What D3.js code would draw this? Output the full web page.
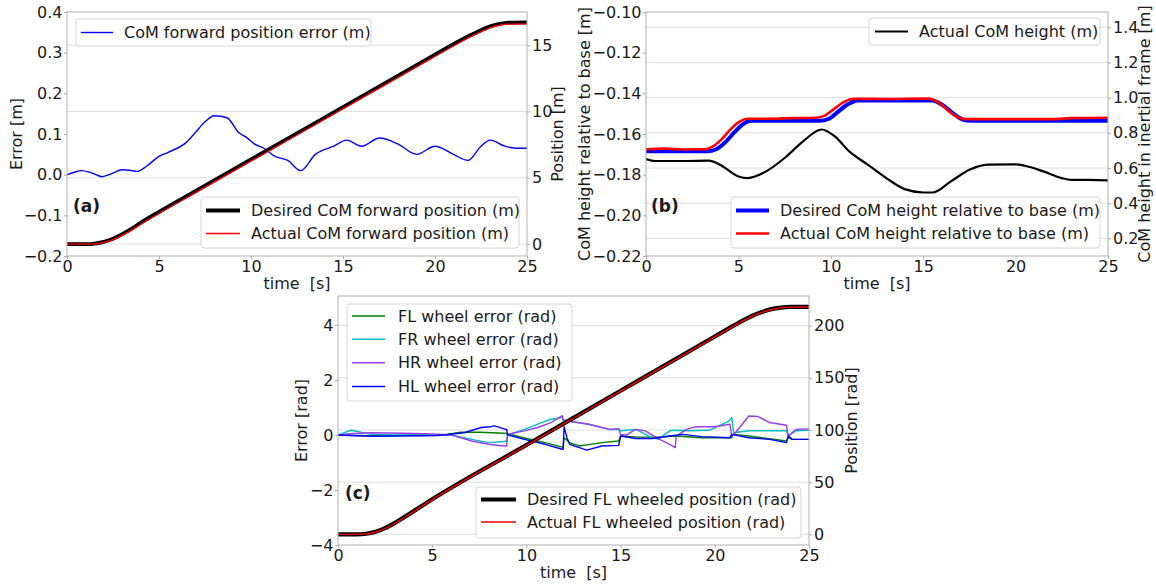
<!DOCTYPE html>
<meta charset="utf-8">
<script src="https://d3js.org/d3.v7.min.js"></script>
<style>
  body { margin: 0; background: #fff; }
  svg text { font-family: "DejaVu Sans", sans-serif; fill: #1a1a1a; }
</style>
<svg id="fig" width="1156" height="587"></svg>
<script>
// ---------- data (time [s], value) ----------
var timeTicks = [0, 5, 10, 15, 20, 25];

// (a) CoM forward
var aLeftTicks = [-0.2, -0.1, 0.0, 0.1, 0.2, 0.3, 0.4];
var aRightTicks = [0, 5, 10, 15];
var comErrA = [[0,0.0],[0.4,0.006],[0.8,0.01],[1.3,0.005],[1.9,-0.005],[2.4,0.002],[3,0.012],[3.4,0.011],[3.8,0.008],[4.3,0.02],[5,0.045],[5.5,0.055],[6.5,0.08],[7,0.105],[7.5,0.13],[8,0.145],[8.7,0.14],[9.3,0.105],[9.8,0.09],[10.2,0.075],[10.7,0.065],[11.3,0.045],[12,0.035],[12.7,0.01],[13.5,0.05],[14.5,0.07],[15.2,0.085],[16,0.07],[17,0.09],[18,0.075],[19,0.05],[20,0.07],[21,0.05],[21.8,0.035],[22.5,0.07],[23,0.085],[23.8,0.07],[24.5,0.065],[25,0.065]];
var comPosDesA = [[0,0],[1,0],[1.5,0.04],[2,0.16],[2.5,0.4],[3,0.75],[3.5,1.15],[4,1.6],[5,2.43],[7,4.01],[10,6.38],[13,8.75],[16,11.12],[19,13.49],[21,15.07],[21.5,15.45],[22,15.8],[22.5,16.13],[23,16.42],[23.5,16.6],[24,16.7],[25,16.72]];
var comPosActA = [[0,0],[1,0],[1.5,0.02],[2,0.12],[2.5,0.33],[3,0.66],[3.5,1.05],[4,1.48],[5,2.3],[7,3.88],[10,6.25],[13,8.62],[16,10.99],[19,13.36],[21,14.94],[21.5,15.32],[22,15.68],[22.5,16.0],[23,16.3],[23.5,16.5],[24,16.58],[25,16.6]];

// (b) CoM height
var bLeftTicks = [-0.22, -0.20, -0.18, -0.16, -0.14, -0.12, -0.10];
var bRightTicks = [0.2, 0.4, 0.6, 0.8, 1.0, 1.2, 1.4];
var heightDesB = [[0,-0.1685],[3.3,-0.1685],[3.8,-0.1675],[4.3,-0.164],[4.8,-0.159],[5.2,-0.1555],[5.7,-0.1535],[9.4,-0.1535],[9.9,-0.1525],[10.4,-0.149],[10.9,-0.1455],[11.5,-0.1435],[15.5,-0.1435],[16.0,-0.1455],[16.5,-0.149],[17,-0.1523],[17.5,-0.1535],[25,-0.1535]];
var heightActB = [[0,-0.1675],[1,-0.1672],[2,-0.1676],[3.2,-0.1675],[3.6,-0.1662],[4.1,-0.1625],[4.6,-0.1575],[5,-0.1543],[5.5,-0.1525],[6.5,-0.1525],[8,-0.1522],[9.2,-0.152],[9.7,-0.1508],[10.2,-0.1475],[10.7,-0.1443],[11.3,-0.1427],[13,-0.1428],[15.3,-0.1426],[15.8,-0.1445],[16.3,-0.148],[16.8,-0.1515],[17.3,-0.1527],[20,-0.1527],[22,-0.1527],[23,-0.1522],[25,-0.152]];
var heightInertialB = [[0,0.651],[0.5,0.64],[2,0.64],[3.4,0.642],[4,0.619],[5,0.552],[5.5,0.543],[6.5,0.581],[7.5,0.657],[8.5,0.752],[9.5,0.819],[10.2,0.781],[11,0.695],[12,0.619],[13,0.543],[14,0.48],[15,0.461],[15.5,0.461],[16.5,0.524],[17.5,0.59],[18.5,0.619],[20,0.621],[20.5,0.613],[21.5,0.581],[22.5,0.543],[23,0.533],[24,0.533],[25,0.53]];

// (c) wheels
var cLeftTicks = [-4, -2, 0, 2, 4];
var cRightTicks = [0, 50, 100, 150, 200];
var flErr = [[0,0],[1,-0.02],[2,-0.03],[3,-0.02],[4,0],[5,0.0],[5.8,0.02],[6.5,0.1],[7.5,0.1],[8.5,0.07],[9,0.05],[10,-0.13],[11,-0.28],[11.95,-0.45],[12.0,-0.1],[12.3,-0.28],[12.8,-0.4],[13.3,-0.35],[14,-0.28],[14.9,-0.22],[15.0,-0.04],[16,-0.08],[17,-0.08],[17.9,-0.04],[19.3,-0.1],[20.9,-0.1],[21,0.02],[21.8,-0.04],[23.8,-0.22],[23.9,-0.1],[24.1,-0.16],[25,-0.16]];
var frErr = [[0,0],[0.7,0.17],[1.8,0.02],[3,0.0],[5,-0.01],[6,0.0],[7.1,-0.16],[8,-0.28],[8.8,-0.24],[8.95,-0.22],[9.0,0.0],[9.9,0.2],[10.6,0.39],[11.3,0.57],[11.9,0.63],[12.0,0.45],[12.3,0.5],[13.3,0.39],[14.4,0.2],[14.9,0.2],[15.0,0.15],[15.8,0.2],[16.5,-0.04],[17.0,-0.16],[17.6,0.15],[17.9,0.17],[18.6,0.15],[19.7,0.17],[20.75,0.5],[20.9,0.63],[21.0,0.08],[21.8,0.15],[22.9,0.15],[23.8,0.15],[23.9,-0.04],[24.3,0.15],[25,0.17]];
var hrErr = [[0,0],[0.8,0.05],[1.8,0.08],[3.5,0.06],[5,0.04],[6,0.0],[7.1,-0.22],[8,-0.34],[8.8,-0.4],[8.95,-0.4],[9.0,0.02],[9.9,0.15],[10.6,0.27],[11.3,0.45],[11.9,0.7],[11.95,0.55],[12.3,0.5],[13.3,0.39],[14.4,0.2],[14.9,0.23],[15.0,0.02],[15.3,-0.01],[15.8,0.2],[16.3,0.15],[16.9,-0.1],[17.6,-0.34],[17.9,-0.46],[17.95,-0.04],[18.5,0.2],[19,0.3],[20,0.3],[20.8,0.39],[20.9,-0.04],[21.1,0.08],[21.8,0.69],[22.3,0.67],[22.9,0.45],[23.8,0.35],[23.9,-0.04],[24.3,0.2],[25,0.22]];
var hlErr = [[0,0],[1,-0.03],[2,-0.05],[3,-0.04],[4.5,-0.03],[5.3,-0.02],[6.7,0.08],[7.6,0.27],[8.1,0.3],[8.3,0.33],[8.9,0.2],[8.95,0.2],[9.0,0.0],[9.9,-0.16],[11,-0.34],[11.9,-0.52],[11.95,-0.52],[12.0,0.3],[12.15,-0.1],[12.3,-0.34],[13.2,-0.55],[14,-0.4],[14.9,-0.38],[15.0,-0.04],[15.8,-0.13],[16.7,-0.13],[17.6,-0.04],[18.3,0.02],[19.3,-0.06],[20.8,-0.1],[20.9,0.02],[21.8,-0.1],[22.9,-0.16],[23.8,-0.28],[23.9,-0.04],[24.1,-0.16],[25,-0.16]];
var wheelPosDes = [[0,0],[1,0],[1.5,0.6],[2,2.5],[2.5,6],[3,10.8],[3.5,16.3],[4,22],[5,33.6],[10,85.6],[15,137.6],[20,189.6],[21,200],[21.5,205],[22,209.5],[22.5,213],[23,215.8],[23.5,217.3],[24,218],[25,218]];
var wheelPosAct = [[0,0],[1,0],[1.5,0.5],[2,2.3],[2.5,5.7],[3,10.4],[3.5,15.9],[4,21.6],[5,33.2],[10,85.2],[15,137.2],[20,189.2],[21,199.6],[21.5,204.6],[22,209.1],[22.5,212.7],[23,215.5],[23.5,217.0],[24,217.7],[25,217.8]];

// ---------- drawing ----------
var svg = d3.select("#fig");
svg.append("rect").attr("width", 1156).attr("height", 587).attr("fill", "#fff");

var FONT = 16;

function makePanel(id, box, yLDom, yRDom, leftTicks, leftFmt, rightTicks, rightFmt) {
  var g = svg.append("g");
  var x = d3.scaleLinear().domain([0, 25]).range([box.left, box.right]);
  var yL = d3.scaleLinear().domain(yLDom).range([box.bottom, box.top]);
  var yR = d3.scaleLinear().domain(yRDom).range([box.bottom, box.top]);

  svg.append("clipPath").attr("id", "clip" + id)
    .append("rect").attr("x", box.left).attr("y", box.top)
    .attr("width", box.right - box.left).attr("height", box.bottom - box.top);

  // grid from the right axis
  g.selectAll(".grid").data(rightTicks).enter().append("line")
    .attr("x1", box.left).attr("x2", box.right)
    .attr("y1", function(d) { return yR(d); }).attr("y2", function(d) { return yR(d); })
    .attr("stroke", "#dedede").attr("stroke-width", 1);

  var ax = g.append("g").attr("transform", "translate(0," + box.bottom + ")")
    .call(d3.axisBottom(x).tickValues(timeTicks).tickFormat(d3.format("d")).tickSize(3).tickPadding(2));
  var al = g.append("g").attr("transform", "translate(" + box.left + ",0)")
    .call(d3.axisLeft(yL).tickValues(leftTicks).tickFormat(d3.format(leftFmt)).tickSize(3).tickPadding(1.5));
  var ar = g.append("g").attr("transform", "translate(" + box.right + ",0)")
    .call(d3.axisRight(yR).tickValues(rightTicks).tickFormat(d3.format(rightFmt)).tickSize(3).tickPadding(2));
  [ax, al, ar].forEach(function(a) {
    a.attr("font-size", FONT).attr("font-family", null);
    a.select(".domain").remove();
    a.selectAll(".tick line").attr("stroke", "#aaa");
  });

  var plot = svg.append("g").attr("clip-path", "url(#clip" + id + ")");
  return { g: g, plot: plot, x: x, yL: yL, yR: yR, box: box };
}

function drawLine(p, data, y, color, width, curve) {
  var line = d3.line()
    .x(function(d) { return p.x(d[0]); })
    .y(function(d) { return y(d[1]); })
    .curve(curve || d3.curveMonotoneX);
  p.plot.append("path").datum(data)
    .attr("d", line).attr("fill", "none")
    .attr("stroke", color).attr("stroke-width", width)
    .attr("stroke-linejoin", "round").attr("stroke-linecap", "round");
}

function frame(p) {
  var b = p.box;
  svg.append("rect").attr("x", b.left).attr("y", b.top)
    .attr("width", b.right - b.left).attr("height", b.bottom - b.top)
    .attr("fill", "none").attr("stroke", "#b0b0b0").attr("stroke-width", 1);
}

function legend(L, items) {
  var g = svg.append("g");
  g.append("rect").attr("x", L.x).attr("y", L.y).attr("width", L.w).attr("height", L.h)
    .attr("rx", 3).attr("fill", "#fff").attr("fill-opacity", 0.85)
    .attr("stroke", "#d6d6d6").attr("stroke-width", 1);
  items.forEach(function(it, i) {
    var cy = L.rows[i];
    g.append("line").attr("x1", L.lx0).attr("x2", L.lx1).attr("y1", cy).attr("y2", cy)
      .attr("stroke", it.color).attr("stroke-width", it.width);
    g.append("text").attr("x", L.tx).attr("y", cy).attr("dy", "0.36em")
      .attr("font-size", FONT).text(it.label);
  });
}

function labels(p, leftText, leftX, rightText, rightX, timeY) {
  var b = p.box, cy = (b.top + b.bottom) / 2;
  svg.append("text").attr("transform", "translate(" + leftX + "," + cy + ") rotate(-90)")
    .attr("text-anchor", "middle").attr("font-size", FONT).text(leftText);
  svg.append("text").attr("transform", "translate(" + rightX + "," + cy + ") rotate(-90)")
    .attr("text-anchor", "middle").attr("font-size", FONT).text(rightText);
  svg.append("text").attr("x", (b.left + b.right) / 2).attr("y", timeY)
    .attr("text-anchor", "middle").attr("font-size", FONT)
    .style("white-space", "pre").text("time  [s]");
}

function tag(x, y, t) {
  svg.append("text").attr("x", x).attr("y", y).attr("font-size", 17)
    .attr("font-weight", "bold").text(t);
}

// ----- panel (a)
var pa = makePanel("a", { left: 67, right: 527, top: 12, bottom: 256 },
  [-0.2, 0.4], [-0.9, 17.5], aLeftTicks, ".1f", aRightTicks, "d");
drawLine(pa, comErrA, pa.yL, "#0000ff", 1.4);
drawLine(pa, comPosDesA, pa.yR, "#000", 3.8);
drawLine(pa, comPosActA, pa.yR, "#ff0000", 1.3);
frame(pa);
legend({ x: 76, y: 19, w: 295, h: 27, lx0: 81, lx1: 113, tx: 124, rows: [32.5] },
  [{ label: "CoM forward position error (m)", color: "#0000ff", width: 1.4 }]);
legend({ x: 201, y: 197, w: 318, h: 51, lx0: 206, lx1: 240, tx: 251, rows: [210.5, 233.5] },
  [{ label: "Desired CoM forward position (m)", color: "#000", width: 3.8 },
   { label: "Actual CoM forward position (m)", color: "#ff0000", width: 1.3 }]);
tag(73, 212, "(a)");
labels(pa, "Error [m]", 22, "Position [m]", 563, 289);

// ----- panel (b)
var pb = makePanel("b", { left: 646, right: 1108, top: 12, bottom: 256 },
  [-0.22, -0.10], [0.1, 1.487], bLeftTicks, ".2f", bRightTicks, ".1f");
drawLine(pb, heightDesB, pb.yL, "#0000ff", 4);
drawLine(pb, heightActB, pb.yL, "#ff0000", 2.6);
drawLine(pb, heightInertialB, pb.yR, "#000", 2.2);
frame(pb);
legend({ x: 869, y: 18, w: 231, h: 27, lx0: 875, lx1: 908, tx: 919, rows: [31.5] },
  [{ label: "Actual CoM height (m)", color: "#000", width: 2.2 }]);
legend({ x: 731, y: 197, w: 369, h: 51, lx0: 736, lx1: 769, tx: 780, rows: [210.5, 233.5] },
  [{ label: "Desired CoM height relative to base (m)", color: "#0000ff", width: 4 },
   { label: "Actual CoM height relative to base (m)", color: "#ff0000", width: 2.6 }]);
tag(651, 212, "(b)");
labels(pb, "CoM height relative to base [m]", 590, "CoM height in inertial frame [m]", 1150, 289);

// ----- panel (c)
var pc = makePanel("c", { left: 338, right: 809, top: 296, bottom: 545 },
  [-4, 5.05], [-10.2, 228.4], cLeftTicks, "d", cRightTicks, "d");
drawLine(pc, flErr, pc.yL, "#008000", 1.4, d3.curveLinear);
drawLine(pc, frErr, pc.yL, "#00bfbf", 1.4, d3.curveLinear);
drawLine(pc, hrErr, pc.yL, "#9b3cf0", 1.4, d3.curveLinear);
drawLine(pc, hlErr, pc.yL, "#0000ff", 1.4, d3.curveLinear);
drawLine(pc, wheelPosDes, pc.yR, "#000", 4.2);
drawLine(pc, wheelPosAct, pc.yR, "#ff0000", 1.4);
frame(pc);
legend({ x: 347, y: 304, w: 225, h: 97, lx0: 352, lx1: 385, tx: 398, rows: [316, 339.3, 362.7, 386.5] },
  [{ label: "FL wheel error (rad)", color: "#008000", width: 1.4 },
   { label: "FR wheel error (rad)", color: "#00bfbf", width: 1.4 },
   { label: "HR wheel error (rad)", color: "#9b3cf0", width: 1.4 },
   { label: "HL wheel error (rad)", color: "#0000ff", width: 1.4 }]);
legend({ x: 476, y: 487, w: 325, h: 51, lx0: 481, lx1: 516, tx: 527, rows: [499.5, 522] },
  [{ label: "Desired FL wheeled position (rad)", color: "#000", width: 4.2 },
   { label: "Actual FL wheeled position (rad)", color: "#ff0000", width: 1.4 }]);
tag(345, 499, "(c)");
labels(pc, "Error [rad]", 307, "Position [rad]", 857, 578);
</script>
